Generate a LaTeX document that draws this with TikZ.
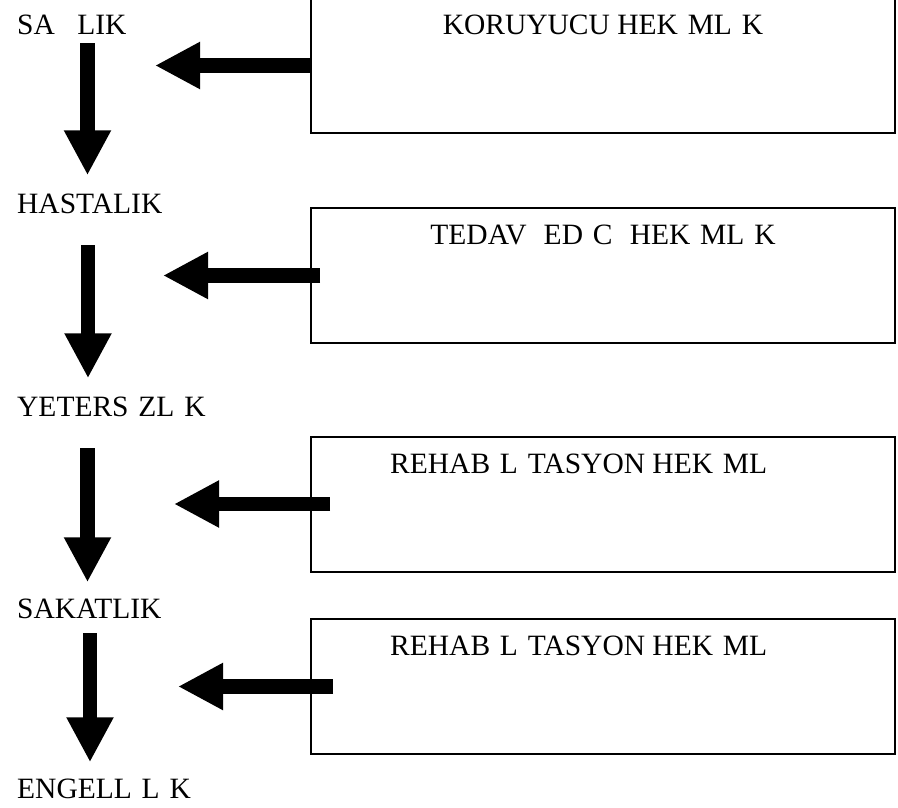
\documentclass[tikz,border=0pt]{standalone}
\usepackage{fontspec}
\setmainfont{Liberation Serif}
\usetikzlibrary{arrows.meta}
\usetikzlibrary{positioning}
\tikzset{
  stage/.style = {anchor=base west, inner sep=0pt,
    font=\fontsize{29.5}{34}\selectfont},% sol taraf, asamalar
  care/.style = {draw=black, line width=2pt, inner sep=0pt,
    minimum width=584pt, minimum height=135pt},% sag taraf, kutular
  caretext/.style = {inner sep=0pt, font=\fontsize{29.5}{34}\selectfont},
  fatarrow/.style = {line width=14.5pt, line cap=butt,
    -{Triangle[length=45pt,width=44pt]}}
}
% eksik harfler (I, G) yerine bosluk
\newcommand{\noI}{\hspace{.333em}}
\newcommand{\noG}{\hspace{.76em}}

\begin{document}
\begin{tikzpicture}[x=1pt,y=-1pt]
\useasboundingbox (0,0) rectangle (898,808);
% asamalar
\node [stage] (sag) at (17,35) {SA\noG LIK};
\node [stage] (has) at (17,213) {HASTALIK};
\node [stage] (yet) at (17,416) {YETERS\noI ZL\noI K};
\node [stage] (sak) at (17,618) {SAKATLIK};
\node [stage] (eng) at (17,798) {ENGELL\noI L\noI K};
% hekimlik kutulari
\node [care, label={[caretext,anchor=base,yshift=-38pt]north:KORUYUCU HEK\noI ML\noI K}] (kor) at (603,65.5) {};
\node [care, label={[caretext,anchor=base,yshift=-37pt]north:TEDAV\noI{} ED\noI C\noI{} HEK\noI ML\noI K}] (ted) at (603,275.5) {};
\node [care, label={[caretext,anchor=base west,xshift=80pt,yshift=-38pt]north west:REHAB\noI L\noI TASYON HEK\noI ML}] (reh) at (603,504) {};
\node [care, label={[caretext,anchor=base west,xshift=80pt,yshift=-37pt]north west:REHAB\noI L\noI TASYON HEK\noI ML}] (reh2) at (603,686.5) {};
% asagi oklar
\draw [fatarrow] ([xshift=70.5pt,yshift=-8pt]sag.south west) -- ([xshift=70.5pt,yshift=18pt]has.north west);
\draw [fatarrow] ([xshift=71pt,yshift=-32pt]has.south west) -- ([xshift=71pt,yshift=18pt]yet.north west);
\draw [fatarrow] ([xshift=70.5pt,yshift=-32pt]yet.south west) -- ([xshift=70.5pt,yshift=16pt]sak.north west);
\draw [fatarrow] ([xshift=73pt,yshift=-15pt]sak.south west) -- ([xshift=73pt,yshift=16pt]eng.north west);
% sola oklar
\coordinate (t1) at (155,65.5);
\coordinate (t2) at (163,275.5);
\coordinate (t3) at (174,504);
\coordinate (t4) at (178,686.5);
\draw [fatarrow] ([xshift=1pt]kor.west) -- (t1);
\draw [fatarrow] ([xshift=10pt]ted.west) -- (t2);
\draw [fatarrow] ([xshift=20pt]reh.west) -- (t3);
\draw [fatarrow] ([xshift=23pt]reh2.west) -- (t4);
\end{tikzpicture}
\end{document}
